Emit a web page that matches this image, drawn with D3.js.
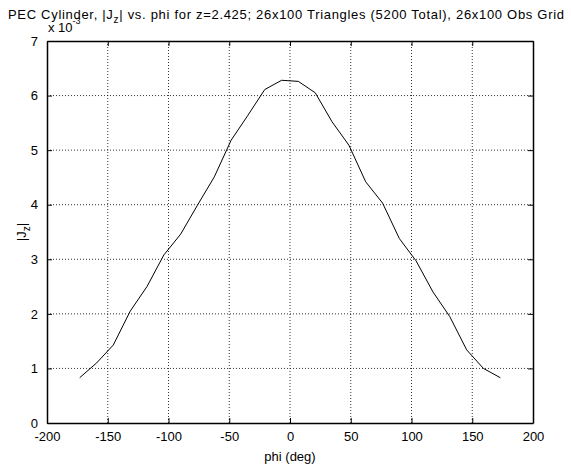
<!DOCTYPE html>
<html lang="en">
<head>
    <meta charset="UTF-8">
    <title>PEC Cylinder |Jz| vs phi</title>
    <script src="https://cdnjs.cloudflare.com/ajax/libs/d3/7.8.5/d3.min.js"></script>
    <style>
        body { margin: 0; background: #fff; }
        text { font-family: "Liberation Sans", Arial, sans-serif; fill: #000; }
    </style>
</head>
<body>
    <script>
        // phi samples (deg) and |Jz| in units of 1e-3
        const phiValues = [-173.1, -159.2, -145.4, -131.5, -117.7, -103.8, -90, -76.2, -62.3, -48.5, -34.6, -20.8, -6.9,
            6.9, 20.8, 34.6, 48.5, 62.3, 76.2, 90, 103.8, 117.7, 131.5, 145.4, 159.2, 173.1]
        const jzValues = [0.83, 1.1, 1.43, 2.05, 2.5, 3.08, 3.46, 3.99, 4.51, 5.18, 5.64, 6.11, 6.28,
            6.26, 6.05, 5.52, 5.09, 4.42, 4.03, 3.38, 2.97, 2.40, 1.95, 1.34, 1.0, 0.83]
        const xTicks = [-200, -150, -100, -50, 0, 50, 100, 150, 200]
        const yTicks = [0, 1, 2, 3, 4, 5, 6, 7]

        const dataset = phiValues.map((p, i) => [p, jzValues[i]])
        const xAccessor = d => d[0]
        const yAccessor = d => d[1]

        const dimensions = {
            width: 571,
            height: 466,
            margin: { top: 41, right: 38, bottom: 43, left: 47 }
        }
        dimensions.boundedWidth = dimensions.width - dimensions.margin.left - dimensions.margin.right
        dimensions.boundedHeight = dimensions.height - dimensions.margin.top - dimensions.margin.bottom

        const wrapper = d3.select('body')
            .append('svg')
                .attr('width', dimensions.width)
                .attr('height', dimensions.height)

        const bounds = wrapper.append('g')
            .attr('transform', `translate(${dimensions.margin.left},${dimensions.margin.top})`)

        const xScale = d3.scaleLinear()
            .domain([-200, 200])
            .range([0, dimensions.boundedWidth])
        const yScale = d3.scaleLinear()
            .domain([0, 7])
            .range([dimensions.boundedHeight, 0])

        // grid lines (dotted)
        bounds.append('g')
            .selectAll('line')
            .data(xTicks.slice(1, -1))
            .join('line')
                .attr('x1', d => xScale(d)).attr('x2', d => xScale(d))
                .attr('y1', 0).attr('y2', dimensions.boundedHeight)
                .attr('stroke', '#000')
                .attr('stroke-width', 0.8)
                .attr('stroke-dasharray', '1,2')
        bounds.append('g')
            .selectAll('line')
            .data(yTicks.slice(1, -1))
            .join('line')
                .attr('y1', d => yScale(d)).attr('y2', d => yScale(d))
                .attr('x1', 0).attr('x2', dimensions.boundedWidth)
                .attr('stroke', '#000')
                .attr('stroke-width', 0.8)
                .attr('stroke-dasharray', '1,2')

        // axes: ticks inside on all four sides
        const plainFormat = d => String(d)
        const xAxisGenerator = d3.axisBottom(xScale).tickValues(xTicks).tickFormat(plainFormat)
            .tickSizeInner(-5).tickSizeOuter(0).tickPadding(9)
        const xAxis = bounds.append('g')
            .attr('transform', `translate(0,${dimensions.boundedHeight})`)
            .call(xAxisGenerator)
        const xTop = bounds.append('g')
            .call(d3.axisTop(xScale).tickValues(xTicks).tickSizeInner(-5).tickSizeOuter(0).tickFormat(''))

        const yAxisGenerator = d3.axisLeft(yScale).tickValues(yTicks).tickFormat(plainFormat)
            .tickSizeInner(-5).tickSizeOuter(0).tickPadding(9)
        const yAxis = bounds.append('g').call(yAxisGenerator)
        const yRight = bounds.append('g')
            .attr('transform', `translate(${dimensions.boundedWidth},0)`)
            .call(d3.axisRight(yScale).tickValues(yTicks).tickSizeInner(-5).tickSizeOuter(0).tickFormat(''))

        bounds.selectAll('.domain').attr('stroke', '#000').attr('stroke-width', 1.5)
        bounds.selectAll('.tick line').attr('stroke', '#000')
        bounds.selectAll('.tick text')
            .style('font-family', '"Liberation Sans", Arial, sans-serif')
            .style('font-size', '13px')
            .attr('fill', '#000')

        // data line
        const lineGenerator = d3.line()
            .x(d => xScale(xAccessor(d)))
            .y(d => yScale(yAccessor(d)))
        bounds.append('path')
            .datum(dataset)
            .attr('d', lineGenerator)
            .attr('fill', 'none')
            .attr('stroke', '#000')
            .attr('stroke-width', 1)

        // labels
        const xAxisLabel = wrapper.append('text')
            .attr('x', dimensions.margin.left + dimensions.boundedWidth / 2)
            .attr('y', 461)
            .attr('text-anchor', 'middle')
            .style('font-size', '13px')
            .text('phi (deg)')

        const yAxisLabel = wrapper.append('text')
            .attr('transform', `translate(26,${dimensions.margin.top + dimensions.boundedHeight / 2}) rotate(-90)`)
            .attr('text-anchor', 'middle')
            .style('font-size', '13px')
        yAxisLabel.append('tspan').text('|J')
        yAxisLabel.append('tspan').attr('dy', 4).style('font-size', '10px').text('z')
        yAxisLabel.append('tspan').attr('dy', -4).text('|')

        // exponent (partly hidden under the title, as in the original figure)
        const expLabel = wrapper.append('text')
            .attr('x', 48)
            .attr('y', 32)
            .style('font-size', '13px')
        expLabel.append('tspan').text('x 10')
        expLabel.append('tspan').attr('dy', -8).style('font-size', '9px').text('-3')

        // title
        const title = wrapper.append('text')
            .attr('x', 8)
            .attr('y', 19)
            .style('font-size', '13px')
            .attr('textLength', 556)
        title.append('tspan').text('PEC Cylinder, |J')
        title.append('tspan').attr('dy', 4).style('font-size', '10px').text('z')
        title.append('tspan').attr('dy', -4).text('| vs. phi for z=2.425; 26x100 Triangles (5200 Total), 26x100 Obs Grid')
    </script>
</body>
</html>
